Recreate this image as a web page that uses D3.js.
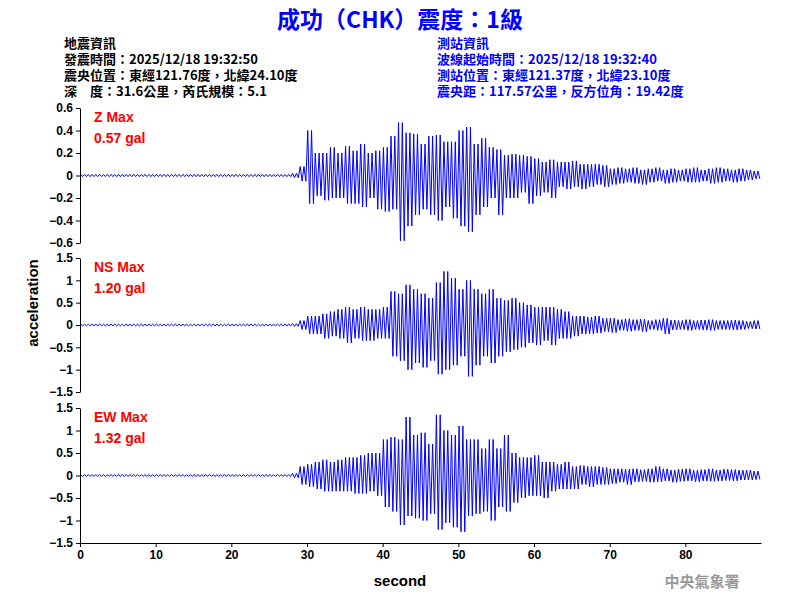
<!DOCTYPE html>
<html><head><meta charset="utf-8">
<script src="https://cdn.jsdelivr.net/npm/d3@7"></script>
<style>body{margin:0;background:#fff}text{font-family:Arial,"Liberation Sans",sans-serif}</style>
</head><body>
<svg id="c" width="800" height="600"></svg>
<script>
// per-second peak values (max, min), seconds 0..89
var quiet = function(n, a) { var r = []; for (var i = 0; i < n; i++) r.push(a); return r; };
var zMax = quiet(28, 0.01).concat([0.02,0.08,0.4,0.2,0.2,0.25,0.2,0.26,0.22,0.28,0.2,0.22,0.25,0.35,0.47,0.38,0.37,0.28,0.35,0.36,0.3,0.3,0.4,0.43,0.28,0.33,0.25,0.23,0.18,0.19,0.18,0.17,0.15,0.12,0.14,0.12,0.12,0.13,0.1,0.1,0.1,0.09,0.06,0.07,0.06,0.07,0.05,0.06,0.07,0.05,0.06,0.05,0.06,0.07,0.05,0.06,0.07,0.06,0.05,0.06,0.05,0.04]);
var zMin = quiet(28, -0.01).concat([-0.02,-0.05,-0.25,-0.18,-0.22,-0.2,-0.2,-0.25,-0.25,-0.28,-0.2,-0.3,-0.32,-0.3,-0.58,-0.45,-0.35,-0.3,-0.35,-0.4,-0.28,-0.38,-0.45,-0.5,-0.35,-0.28,-0.2,-0.35,-0.2,-0.2,-0.15,-0.25,-0.18,-0.15,-0.2,-0.1,-0.12,-0.1,-0.12,-0.1,-0.08,-0.1,-0.08,-0.07,-0.06,-0.07,-0.08,-0.06,-0.05,-0.07,-0.06,-0.05,-0.06,-0.06,-0.05,-0.07,-0.06,-0.05,-0.06,-0.05,-0.04,-0.03]);
var nsMax = quiet(28, 0.02).concat([0.03,0.1,0.2,0.2,0.25,0.3,0.35,0.4,0.35,0.4,0.35,0.35,0.4,0.75,0.7,0.9,0.8,0.7,0.6,0.95,1.2,1.05,0.8,1.0,0.8,0.7,0.8,0.6,0.55,0.6,0.5,0.45,0.4,0.4,0.4,0.35,0.3,0.2,0.2,0.18,0.2,0.15,0.15,0.12,0.14,0.12,0.13,0.1,0.12,0.15,0.11,0.1,0.12,0.1,0.11,0.12,0.1,0.1,0.11,0.1,0.08,0.1]);
var nsMin = quiet(28, -0.02).concat([-0.03,-0.1,-0.2,-0.2,-0.3,-0.25,-0.3,-0.4,-0.3,-0.35,-0.35,-0.3,-0.3,-0.7,-0.8,-1.0,-0.85,-0.95,-0.8,-1.1,-1.0,-0.9,-0.7,-1.15,-0.9,-0.7,-0.85,-0.7,-0.6,-0.55,-0.5,-0.4,-0.45,-0.35,-0.45,-0.3,-0.3,-0.25,-0.2,-0.2,-0.18,-0.15,-0.17,-0.12,-0.14,-0.12,-0.15,-0.1,-0.12,-0.2,-0.11,-0.1,-0.12,-0.1,-0.11,-0.12,-0.1,-0.1,-0.11,-0.1,-0.08,-0.09]);
var ewMax = quiet(28, 0.02).concat([0.05,0.2,0.25,0.3,0.35,0.3,0.35,0.4,0.4,0.45,0.5,0.5,0.8,0.85,0.8,1.3,0.9,0.95,0.7,1.35,1.0,0.9,1.1,0.8,0.8,0.6,0.8,0.6,0.9,0.5,0.4,0.4,0.45,0.3,0.3,0.25,0.3,0.2,0.22,0.2,0.2,0.18,0.15,0.15,0.14,0.15,0.13,0.15,0.2,0.15,0.12,0.14,0.15,0.12,0.13,0.15,0.12,0.14,0.13,0.12,0.12,0.1]);
var ewMin = quiet(28, -0.02).concat([-0.05,-0.2,-0.25,-0.3,-0.35,-0.35,-0.35,-0.35,-0.4,-0.4,-0.35,-0.45,-0.7,-0.8,-1.1,-0.9,-0.95,-1.0,-0.85,-1.2,-1.05,-1.15,-1.25,-0.9,-0.85,-0.8,-1.0,-0.7,-0.8,-0.6,-0.5,-0.45,-0.45,-0.5,-0.35,-0.3,-0.3,-0.3,-0.2,-0.25,-0.2,-0.2,-0.18,-0.15,-0.2,-0.14,-0.13,-0.15,-0.14,-0.12,-0.15,-0.13,-0.12,-0.14,-0.12,-0.13,-0.12,-0.11,-0.12,-0.1,-0.1,-0.09]);

var zTicks = [-0.6,-0.4,-0.2,0,0.2,0.4,0.6];
var hTicks = [-1.5,-1,-0.5,0,0.5,1,1.5];
var xTicks = [0,10,20,30,40,50,60,70,80];

var svg = d3.select("#c");
var x = d3.scaleLinear().domain([0, 90]).range([80, 761]);

var panels = [
  {name: "Z Max", val: "0.57 gal", max: zMax, min: zMin, dom: 0.6, ticks: zTicks, top: 108, bot: 243},
  {name: "NS Max", val: "1.20 gal", max: nsMax, min: nsMin, dom: 1.5, ticks: hTicks, top: 258, bot: 392},
  {name: "EW Max", val: "1.32 gal", max: ewMax, min: ewMin, dom: 1.5, ticks: hTicks, top: 408, bot: 543}
];

panels.forEach(function(p) {
  var y = d3.scaleLinear().domain([-p.dom, p.dom]).range([p.bot, p.top]);
  // swing between each second's peaks a few times
  var pts = [];
  p.max.forEach(function(v, i) {
    pts.push([i + 0.1, v], [i + 0.35, p.min[i]], [i + 0.6, v], [i + 0.85, p.min[i]]);
  });
  svg.append("path")
    .attr("d", d3.line().x(function(d) { return x(d[0]); }).y(function(d) { return y(d[1]); })(pts))
    .attr("fill", "none").attr("stroke", "#0000ff").attr("stroke-width", 1);
  var ax = svg.append("g").attr("transform", "translate(80,0)")
    .call(d3.axisLeft(y).tickValues(p.ticks).tickSize(4).tickSizeOuter(0).tickFormat(d3.format("")));
  ax.selectAll("text").attr("font-size", 12).attr("font-weight", "bold").attr("fill", "#000");
  ax.select(".domain").attr("stroke", "#000");
  svg.append("text").attr("x", 94).attr("y", p.top + 14).attr("fill", "#ff0000")
    .attr("font-size", 14).attr("font-weight", "bold").text(p.name);
  svg.append("text").attr("x", 94).attr("y", p.top + 35).attr("fill", "#ff0000")
    .attr("font-size", 14).attr("font-weight", "bold").text(p.val);
});

var xa = svg.append("g").attr("transform", "translate(0,543)")
  .call(d3.axisBottom(x).tickValues(xTicks).tickSize(4).tickSizeOuter(0));
xa.selectAll("text").attr("font-size", 12).attr("font-weight", "bold").attr("fill", "#000");

svg.append("text").attr("x", 400).attr("y", 586).attr("text-anchor", "middle")
  .attr("font-size", 15).attr("font-weight", "bold").text("second");
svg.append("text").attr("transform", "translate(38,303) rotate(-90)").attr("text-anchor", "middle")
  .attr("font-size", 15).attr("font-weight", "bold").text("acceleration");
svg.append("text").attr("x", 702).attr("y", 587).attr("text-anchor", "middle").attr("fill", "#999")
  .attr("font-size", 15).attr("font-weight", "bold").style("font-family", "Noto Sans CJK TC").text("中央氣象署");

svg.append("text").attr("x", 400).attr("y", 28).attr("text-anchor", "middle").attr("fill", "#0000ff")
  .attr("font-size", 23).attr("font-weight", "bold").style("font-family", "Noto Sans CJK TC").text("成功（CHK）震度：1級");

var left = ["地震資訊", "發震時間：2025/12/18 19:32:50", "震央位置：東經121.76度，北緯24.10度", "深　度：31.6公里，芮氏規模：5.1"];
var right = ["測站資訊", "波線起始時間：2025/12/18 19:32:40", "測站位置：東經121.37度，北緯23.10度", "震央距：117.57公里，反方位角：19.42度"];
function info(lines, x0, col) {
  lines.forEach(function(s, i) {
    svg.append("text").attr("x", x0).attr("y", 48 + i * 16).attr("fill", col)
      .attr("font-size", 13).attr("font-weight", "bold").style("font-family", "Noto Sans CJK TC").text(s);
  });
}
info(left, 64, "#000");
info(right, 437, "#0000ff");
</script>
</body></html>
